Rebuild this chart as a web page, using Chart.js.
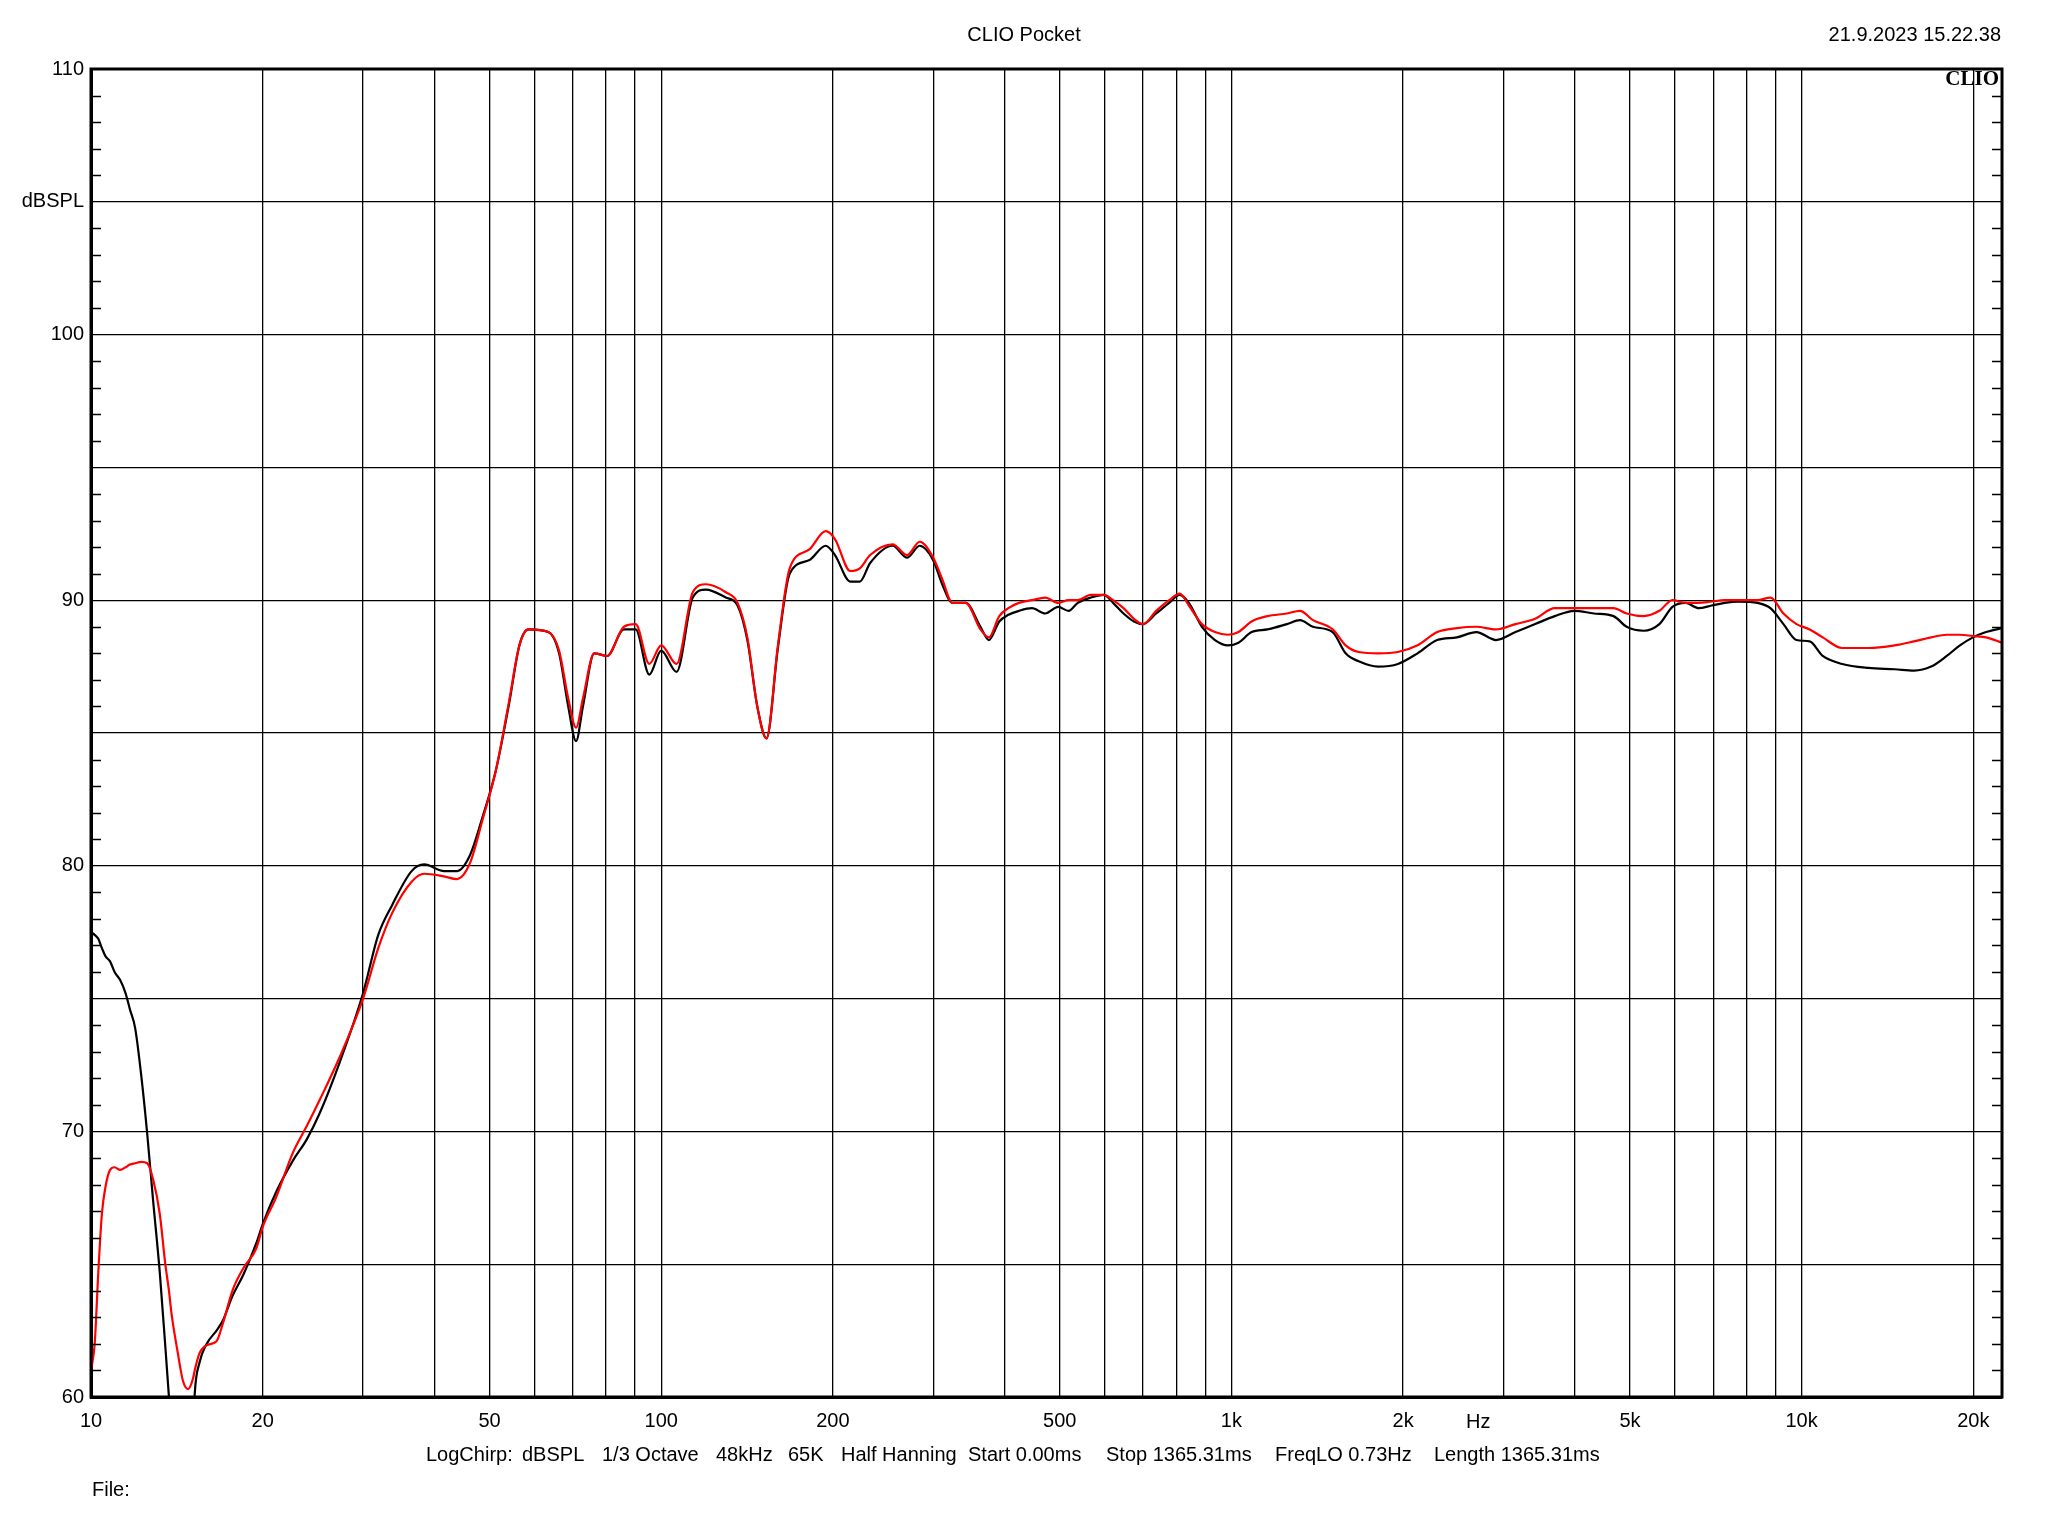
<!DOCTYPE html>
<html>
<head>
<meta charset="utf-8">
<script src="https://cdn.jsdelivr.net/npm/chart.js@4.4.1/dist/chart.umd.min.js"></script>
<style>
  body { margin: 0; background: #fff; }
</style>
</head>
<body>
<canvas id="clioChart" width="2048" height="1536"></canvas>
<script>
// frequency points (Hz) shared by both traces
const freqs = [10, 10.15, 10.3, 10.45, 10.6, 10.8, 11, 11.25, 11.5, 11.7, 11.95, 12.25, 12.55, 12.85, 13.2, 13.5, 13.7, 13.85, 14.2, 14.5, 14.8, 15.1, 15.2, 15.5, 15.95, 16.6, 17.05, 17.7, 18.5, 19.5, 20, 21.1, 22.6, 23.9, 25.2, 27.3, 30, 31.9, 33.7, 36.5, 38.4, 41.6, 43.8, 46.2, 48.7, 51.3, 54.1, 56.4, 58.5, 63.4, 66.2, 68.7, 70.9, 72.9, 76.3, 80.4, 86, 90.2, 95.3, 100, 106.4, 113.6, 119.8, 129.8, 136.1, 141.6, 147.4, 153, 160.2, 168, 181.6, 194.3, 201.7, 214.6, 223, 232.5, 254.6, 270, 284, 300, 311, 324, 342, 363,
  375.5, 391.6, 406.4, 424, 446.9, 471.3, 496.8, 518.2, 537.7, 566.8, 597.6, 620.1, 646.8, 674.6, 699.9, 737.9, 777.9, 811.5, 842.1, 887.7, 935.8, 986.3, 1029, 1085, 1156, 1251, 1319, 1390, 1505, 1586, 1672, 1810, 1959, 2121, 2296, 2485, 2689, 2910, 3150, 3409, 3690, 3993, 4323, 4679, 4933, 5284, 5630, 5935, 6256, 6596, 6953, 7329, 7727, 8364, 8816, 9293, 9797, 10330, 10890, 11780, 13100, 14560, 15750, 16870, 17970, 18950, 19980, 21060, 22460];

const blackDb = [77.5, 77.4, 77.25, 76.9, 76.6, 76.4, 76.0, 75.7, 75.2, 74.6, 73.9, 72.1, 69.9, 67.4, 64.7, 61.9, 60.0, 58.5, 56, 55, 55.5, 58.5, 60.1, 61.3, 62.0, 62.5, 62.9, 63.8, 64.6, 65.8, 66.5, 67.7, 68.9, 69.7, 70.7, 72.6, 75.2, 77.4, 78.5, 79.8, 80.05, 79.8, 79.8, 80.4, 81.9, 83.6, 86.1, 88.3, 88.9, 88.8, 88.0, 86.0, 84.7, 86.0, 88.0, 87.9, 88.9, 88.9, 87.2, 88.1, 87.3, 90.1, 90.4, 90.1, 89.8, 88.5, 86.0, 84.8, 88.2, 91.0, 91.5, 92.05, 91.7, 90.7, 90.7, 91.4, 92.05, 91.6, 92.05, 91.5, 90.6, 89.9, 89.9, 89.0,
  88.5, 89.2, 89.45, 89.6, 89.7, 89.5, 89.75, 89.6, 89.9, 90.1, 90.2, 89.9, 89.5, 89.2, 89.1, 89.5, 89.9, 90.2, 89.9, 89.0, 88.5, 88.3, 88.4, 88.8, 88.9, 89.1, 89.25, 89.0, 88.8, 88.0, 87.7, 87.5, 87.6, 88.0, 88.5, 88.6, 88.8, 88.5, 88.8, 89.1, 89.4, 89.6, 89.5, 89.4, 89.0, 88.85, 89.1, 89.75, 89.9, 89.7, 89.8, 89.9, 89.95, 89.9, 89.7, 89.1, 88.5, 88.45, 87.9, 87.6, 87.45, 87.4, 87.35, 87.5, 87.9, 88.3, 88.6, 88.8, 88.95];

const redDb = [61.0, 62.0, 64.7, 66.9, 67.9, 68.55, 68.65, 68.55, 68.65, 68.75, 68.8, 68.85, 68.8, 68.2, 66.9, 65.0, 64.0, 63.1, 61.65, 60.6, 60.3, 60.7, 61.0, 61.65, 61.95, 62.1, 62.8, 64.0, 64.85, 65.6, 66.4, 67.5, 69.2, 70.2, 71.2, 72.8, 75.0, 76.9, 78.2, 79.4, 79.7, 79.6, 79.5, 80.1, 81.8, 83.6, 86.2, 88.3, 88.9, 88.8, 88.1, 86.3, 85.2, 86.3, 88.0, 87.9, 89.0, 89.1, 87.6, 88.3, 87.6, 90.3, 90.6, 90.3, 89.9, 88.6, 86.0, 84.8, 88.3, 91.2, 91.9, 92.6, 92.3, 91.1, 91.2, 91.7, 92.1, 91.7, 92.2, 91.6, 90.8, 89.9, 89.9, 88.9,
  88.6, 89.4, 89.7, 89.9, 90.0, 90.1, 89.9, 90.0, 90.0, 90.2, 90.2, 90.0, 89.7, 89.3, 89.1, 89.6, 90.0, 90.25, 89.8, 89.1, 88.8, 88.7, 88.8, 89.2, 89.4, 89.5, 89.6, 89.25, 88.9, 88.3, 88.05, 88.0, 88.05, 88.3, 88.8, 88.95, 89.0, 88.9, 89.1, 89.3, 89.7, 89.7, 89.7, 89.7, 89.5, 89.4, 89.6, 90.0, 89.9, 89.9, 89.95, 90.0, 90.0, 90.0, 90.1, 89.5, 89.1, 88.9, 88.6, 88.2, 88.2, 88.3, 88.45, 88.6, 88.7, 88.7, 88.65, 88.6, 88.4];

// grid frequencies and which ones get a label
const gridFreqs = [10, 20, 30, 40, 50, 60, 70, 80, 90, 100, 200, 300, 400, 500, 600, 700, 800, 900, 1000, 2000, 3000, 4000, 5000, 6000, 7000, 8000, 9000, 10000, 20000];
const freqLabels = { 10: "10", 20: "20", 50: "50", 100: "100", 200: "200", 500: "500", 1000: "1k", 2000: "2k", 5000: "5k", 10000: "10k", 20000: "20k" };
const dbLabels = { 60: "60", 70: "70", 80: "80", 90: "90", 100: "100", 105: "dBSPL", 110: "110" };

const infoLine = [
  ["LogChirp:", 426], ["dBSPL", 522], ["1/3 Octave", 602], ["48kHz", 716], ["65K", 788],
  ["Half Hanning", 841], ["Start 0.00ms", 968], ["Stop 1365.31ms", 1106],
  ["FreqLO 0.73Hz", 1275], ["Length 1365.31ms", 1434]
];

const toPoints = (vals) => freqs.map((f, i) => ({ x: f, y: vals[i] }));

const FONT = '20px "Liberation Sans", Arial, sans-serif';

const clioDecor = {
  id: "clioDecor",
  afterDraw(chart) {
    const ctx = chart.ctx;
    const a = chart.chartArea;
    const yScale = chart.scales.y;
    const xScale = chart.scales.x;
    ctx.save();
    // minor ticks, pointing inward
    ctx.strokeStyle = "#000";
    ctx.lineWidth = 1.3;
    for (let v = 61; v < 110; v++) {
      if (v % 5 === 0) continue;
      const y = Math.round(yScale.getPixelForValue(v)) + 0.5;
      ctx.beginPath();
      ctx.moveTo(a.left, y); ctx.lineTo(a.left + 10, y);
      ctx.moveTo(a.right - 10, y); ctx.lineTo(a.right, y);
      ctx.stroke();
    }
    // frame
    ctx.lineWidth = 3;
    ctx.strokeRect(a.left, a.top, a.right - a.left, a.bottom - a.top);

    ctx.fillStyle = "#000";
    ctx.font = FONT;
    ctx.textBaseline = "middle";
    ctx.textAlign = "center";
    ctx.fillText("CLIO Pocket", 1024, 35);
    ctx.textAlign = "right";
    ctx.fillText("21.9.2023 15.22.38", 2001, 35);
    ctx.textAlign = "center";
    ctx.fillText("Hz", xScale.getPixelForValue(2710), 1422);
    ctx.textAlign = "left";
    infoLine.forEach(([t, x]) => ctx.fillText(t, x, 1455));
    ctx.fillText("File:", 92, 1490);

    ctx.font = 'bold 21px "Liberation Serif", "Times New Roman", serif';
    ctx.textAlign = "right";
    ctx.fillText("CLIO", a.right - 3, 80);
    ctx.restore();
  }
};

const ctx = document.getElementById("clioChart");
new Chart(ctx, {
  type: "line",
  data: {
    datasets: [
      {
        label: "red",
        data: toPoints(redDb),
        borderColor: "#ff0000",
        borderWidth: 2.2,
        pointRadius: 0,
        cubicInterpolationMode: "monotone",
        clip: 0,
        order: 0
      },
      {
        label: "black",
        data: toPoints(blackDb),
        borderColor: "#000000",
        borderWidth: 2.2,
        pointRadius: 0,
        cubicInterpolationMode: "monotone",
        clip: 0,
        order: 1
      }
    ]
  },
  options: {
    responsive: false,
    animation: false,
    layout: { padding: { top: 69, right: 46, left: 0, bottom: 0 } },
    plugins: {
      legend: { display: false },
      tooltip: { enabled: false },
      title: { display: false }
    },
    scales: {
      x: {
        type: "logarithmic",
        min: 10,
        max: 22460,
        afterBuildTicks: (scale) => {
          scale.ticks = gridFreqs.map(v => ({ value: v }));
        },
        afterFit: (scale) => { scale.height = 139; },
        ticks: {
          autoSkip: false,
          maxRotation: 0,
          padding: 12,
          color: "#000",
          font: { family: '"Liberation Sans", Arial, sans-serif', size: 20 },
          callback: (v) => freqLabels[v] || ""
        },
        grid: { color: "#000", lineWidth: 1.3, drawTicks: false },
        border: { color: "#000", width: 3 }
      },
      y: {
        type: "linear",
        min: 60,
        max: 110,
        afterFit: (scale) => { scale.width = 91; },
        ticks: {
          stepSize: 5,
          autoSkip: false,
          padding: 7,
          color: "#000",
          font: { family: '"Liberation Sans", Arial, sans-serif', size: 20 },
          callback: (v) => dbLabels[v] || ""
        },
        grid: { color: "#000", lineWidth: 1.3, drawTicks: false },
        border: { color: "#000", width: 3 }
      }
    }
  },
  plugins: [clioDecor]
});
</script>
</body>
</html>
